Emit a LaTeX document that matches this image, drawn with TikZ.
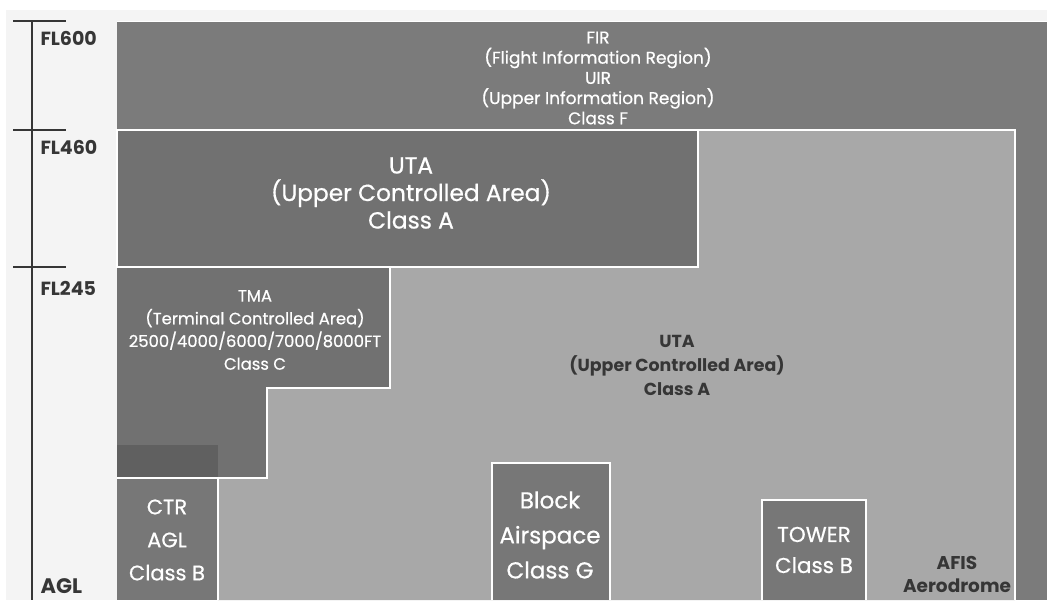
\documentclass[tikz,border=0pt]{standalone}
\usepackage{fontspec}
\setmainfont{Poppins}
\newfontfamily\medfont{Poppins}[FakeBold=0.6]
\usetikzlibrary{positioning,calc}
\definecolor{paper}{HTML}{F4F4F4}
\definecolor{firgray}{HTML}{7B7B7B}
\definecolor{utagray}{HTML}{717171}
\definecolor{lightzone}{HTML}{A8A8A8}
\definecolor{boxgray}{HTML}{777777}
\definecolor{overlapgray}{HTML}{606060}
\definecolor{inkgray}{HTML}{363636}
\tikzset{
  zone/.style={fill=#1, draw=white, line width=1.6pt},
  axisline/.style={draw=inkgray, line width=1.6pt},
  level/.style={anchor=west, text=inkgray, font=\fontsize{19}{19}\selectfont\bfseries},
  whitelabel/.style={text=white, align=center, inner sep=0pt},
  darklabel/.style={text=inkgray, align=center, inner sep=0pt}
}
\begin{document}
\begin{tikzpicture}[x=1pt, y=-1pt]
  \useasboundingbox (0,0) rectangle (1047,600);
  \fill[white] (0,0) rectangle (1047,600);
  \fill[paper] (6,10) rectangle (1047,600);

  % regions
  \fill[firgray] (117,21) rectangle (1047,600);
  \draw[white, line width=1pt] (117,21) -- (1047,21);
  \path[zone=lightzone] (218,600) -- (218,478) -- (267,478) -- (267,388) -- (390,388)
    -- (390,267) -- (698,267) -- (698,130) -- (1015,130) -- (1015,600);
  \fill[utagray] (117,267) -- (390,267) -- (390,388) -- (267,388) -- (267,478) -- (117,478) -- cycle;
  \draw[white, line width=1.6pt] (390,267) -- (390,388) -- (267,388) -- (267,478) -- (218,478);
  \path[zone=utagray] (117,130) rectangle (698,267);
  \fill[overlapgray] (117,445) rectangle (218,478);
  \fill[boxgray] (117,478) rectangle (218,600);
  \draw[white, line width=1.6pt] (117,478) -- (218,478) -- (218,600);
  \path[zone=boxgray] (492,600) -- (492,463) -- (610,463) -- (610,600);
  \path[zone=boxgray] (762,600) -- (762,500) -- (866,500) -- (866,600);

  % altitude axis
  \draw[axisline] (32,21) -- (32,600);
  \foreach \y in {21,130,267} {
    \draw[axisline] (13,\y) -- (66,\y);
  }
  \node[level] (fl600) at (37,38) {FL600};
  \node[level] (fl460) at (37,147) {FL460};
  \node[level] (fl245) at (37,288) {FL245};
  \node[level, font=\fontsize{21}{21}\selectfont\bfseries] (agl) at (37,586) {AGL};

  % labels
  \node[whitelabel, font=\medfont\fontsize{17}{20.2}\selectfont] (fir) at (598,78)
    {FIR\\(Flight Information Region)\\UIR\\(Upper Information Region)\\Class F};
  \node[whitelabel, font=\medfont\fontsize{23.3}{27.5}\selectfont] (utatop) at (411,193)
    {UTA\\(Upper Controlled Area)\\Class A};
  \node[whitelabel, font=\medfont\fontsize{16.4}{22.7}\selectfont] (tma) at (255,330)
    {TMA\\(Terminal Controlled Area)\\2500/4000/6000/7000/8000FT\\Class C};
  \node[darklabel, font=\fontsize{17.4}{24}\selectfont\bfseries] (utamid) at (677,365)
    {UTA\\(Upper Controlled Area)\\Class A};
  \node[whitelabel, font=\medfont\fontsize{21}{33}\selectfont] (ctr) at (167,540)
    {CTR\\AGL\\Class B};
  \node[whitelabel, font=\medfont\fontsize{23}{35}\selectfont] (block) at (550,535)
    {Block\\Airspace\\Class G};
  \node[whitelabel, font=\medfont\fontsize{21.5}{31}\selectfont] (tower) at (814,550)
    {TOWER\\Class B};
  \node[darklabel, font=\fontsize{18.5}{23}\selectfont\bfseries] (afis) at (957,574)
    {AFIS\\Aerodrome};
\end{tikzpicture}
\end{document}
